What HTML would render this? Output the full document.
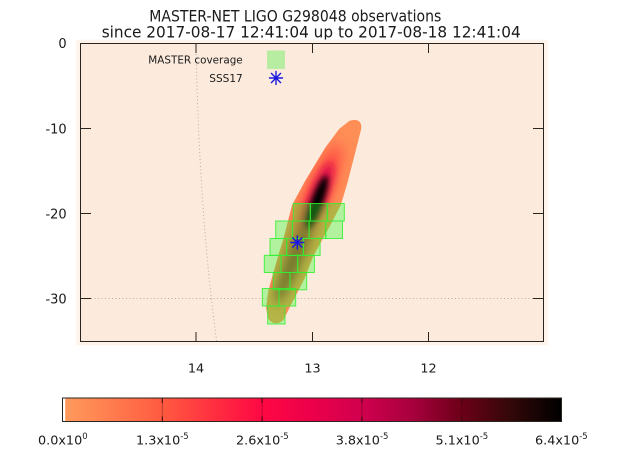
<!DOCTYPE html>
<html>
<head>
<meta charset="utf-8">
<style>
html,body{margin:0;padding:0;background:#fff;}
svg{display:block;}
text{font-family:"DejaVu Sans","Liberation Sans",sans-serif;fill:#1a1a1a;}
</style>
</head>
<body>
<svg width="623" height="468" viewBox="0 0 623 468" xmlns="http://www.w3.org/2000/svg">
<defs>
  <linearGradient id="cb" x1="0" y1="0" x2="1" y2="0">
    <stop offset="0" stop-color="#FF9C5C"/>
    <stop offset="0.1" stop-color="#FF7C4E"/>
    <stop offset="0.2" stop-color="#FF5A40"/>
    <stop offset="0.3" stop-color="#FF3040"/>
    <stop offset="0.4" stop-color="#FF0844"/>
    <stop offset="0.5" stop-color="#EC004A"/>
    <stop offset="0.6" stop-color="#D0004E"/>
    <stop offset="0.7" stop-color="#A8003E"/>
    <stop offset="0.8" stop-color="#6C0018"/>
    <stop offset="0.9" stop-color="#320808"/>
    <stop offset="1" stop-color="#000000"/>
  </linearGradient>
  <clipPath id="band">
    <path id="bandpath" d="M349,121 C357,118 363,121 361,130 L357,146 L348,181 L341,205 L330,226 L320,244 L313,257 L305,278 L291,305 L284,319 C281,324 272,326 268,318 L266,308 L268,292 L272,277 L278,256 L283,240 L292,205 L305,181 L325,148 L339,129 Z"/>
  </clipPath>
  <filter id="b3" x="-50%" y="-50%" width="200%" height="200%"><feGaussianBlur stdDeviation="3"/></filter>
  <filter id="b4" x="-50%" y="-50%" width="200%" height="200%"><feGaussianBlur stdDeviation="4"/></filter>
  <filter id="b5" x="-50%" y="-50%" width="200%" height="200%"><feGaussianBlur stdDeviation="5"/></filter>
  <filter id="b7" x="-50%" y="-50%" width="200%" height="200%"><feGaussianBlur stdDeviation="7"/></filter>
</defs>

<!-- title -->
<text x="149.3" y="21.7" font-size="16" textLength="292" lengthAdjust="spacingAndGlyphs">MASTER-NET LIGO G298048 observations</text>
<text x="101.7" y="37.7" font-size="16" textLength="419" lengthAdjust="spacingAndGlyphs">since 2017-08-17 12:41:04 up to 2017-08-18 12:41:04</text>

<!-- plot background -->
<rect x="76" y="39.5" width="472" height="306" fill="#FEF4EC"/>
<rect x="80.5" y="43.5" width="463" height="298" fill="#FCEBDD"/>

<!-- gridlines -->
<path d="M196,43.5 Q199,210 216.7,341.5" fill="none" stroke="#b9aca4" stroke-width="1" stroke-dasharray="1,2.5"/>
<line x1="80.5" y1="298.5" x2="543.5" y2="298.5" stroke="#b9aca4" stroke-width="1" stroke-dasharray="1,2.5"/>

<!-- heatmap band -->
<g clip-path="url(#band)">
  <use href="#bandpath" fill="#FF8E56"/>
  <ellipse cx="0" cy="0" rx="64" ry="12" fill="#FF4A42" filter="url(#b7)" transform="translate(314,203) rotate(-67)"/>
  <ellipse cx="0" cy="0" rx="36" ry="8.5" fill="#E0104C" filter="url(#b4)" transform="translate(318,196) rotate(-68)"/>
  <ellipse cx="0" cy="0" rx="45" ry="8" fill="#A03030" filter="url(#b5)" transform="translate(293,262) rotate(-68)"/>
  <ellipse cx="0" cy="0" rx="28" ry="6" fill="#000" filter="url(#b3)" transform="translate(317,202) rotate(-70)"/>
</g>

<!-- coverage cells -->
<g fill="rgba(40,255,40,0.35)" stroke="#33ee33" stroke-width="1" stroke-opacity="0.85">
  <rect x="293.3" y="203.5" width="17" height="17.5"/>
  <rect x="310.3" y="203.5" width="17" height="17.5"/>
  <rect x="327.3" y="203.5" width="17" height="17.5"/>
  <rect x="275.7" y="221" width="16.7" height="17.5"/>
  <rect x="292.4" y="221" width="16.7" height="17.5"/>
  <rect x="309.1" y="221" width="16.7" height="17.5"/>
  <rect x="325.8" y="221" width="16.7" height="17.5"/>
  <rect x="270" y="238.5" width="16.7" height="17"/>
  <rect x="286.7" y="238.5" width="16.7" height="17"/>
  <rect x="303.4" y="238.5" width="16.7" height="17"/>
  <rect x="264.3" y="255.3" width="16.7" height="17.2"/>
  <rect x="281" y="255.3" width="16.7" height="17.2"/>
  <rect x="297.7" y="255.3" width="16.7" height="17.2"/>
  <rect x="273.3" y="272.5" width="16.7" height="17.3"/>
  <rect x="290" y="272.5" width="16.7" height="17.3"/>
  <rect x="262.3" y="288.5" width="16.7" height="17.5"/>
  <rect x="279" y="288.5" width="16.7" height="17.5"/>
  <rect x="267.7" y="306" width="17.3" height="18"/>
</g>

<!-- SSS17 star -->
<g stroke="#1818e0" stroke-width="1.4" stroke-linecap="round">
  <line x1="290.8" y1="242.5" x2="303.8" y2="242.5"/>
  <line x1="297.3" y1="236" x2="297.3" y2="249"/>
  <line x1="292.7" y1="237.9" x2="301.9" y2="247.1"/>
  <line x1="292.7" y1="247.1" x2="301.9" y2="237.9"/>
</g>
<circle cx="297.3" cy="242.5" r="1.6" fill="#1818e0"/>

<!-- legend -->
<text x="242.7" y="63.6" font-size="11" text-anchor="end" textLength="94.4" lengthAdjust="spacingAndGlyphs">MASTER coverage</text>
<rect x="267" y="50.5" width="18" height="18.5" fill="#B6EDA0"/>
<text x="242.7" y="82" font-size="11" text-anchor="end" textLength="33.4" lengthAdjust="spacingAndGlyphs">SSS17</text>
<g stroke="#1818e0" stroke-width="1.4" stroke-linecap="round">
  <line x1="269.5" y1="78" x2="282.5" y2="78"/>
  <line x1="276" y1="71.5" x2="276" y2="84.5"/>
  <line x1="271.4" y1="73.4" x2="280.6" y2="82.6"/>
  <line x1="271.4" y1="82.6" x2="280.6" y2="73.4"/>
</g>
<circle cx="276" cy="78" r="1.5" fill="#1818e0"/>

<!-- frame -->
<rect x="80.5" y="43.5" width="463" height="298" fill="none" stroke="#2b2520" stroke-width="1"/>
<g stroke="#2b2520" stroke-width="1">
  <line x1="80.5" y1="128.5" x2="91" y2="128.5"/>
  <line x1="80.5" y1="213.5" x2="91" y2="213.5"/>
  <line x1="80.5" y1="298.5" x2="91" y2="298.5"/>
  <line x1="533" y1="128.5" x2="543.5" y2="128.5"/>
  <line x1="533" y1="213.5" x2="543.5" y2="213.5"/>
  <line x1="533" y1="298.5" x2="543.5" y2="298.5"/>
  <line x1="196" y1="43.5" x2="196" y2="53"/>
  <line x1="312.5" y1="43.5" x2="312.5" y2="53"/>
  <line x1="428.5" y1="43.5" x2="428.5" y2="53"/>
  <line x1="196" y1="332" x2="196" y2="341.5"/>
  <line x1="312.5" y1="332" x2="312.5" y2="341.5"/>
  <line x1="428.5" y1="332" x2="428.5" y2="341.5"/>
</g>

<!-- y labels -->
<g font-size="13" text-anchor="end">
  <text x="66.7" y="48">0</text>
  <text x="66.7" y="133.5">-10</text>
  <text x="66.7" y="218.5">-20</text>
  <text x="66.7" y="303.5">-30</text>
</g>
<!-- x labels -->
<g font-size="12.8" text-anchor="middle">
  <text x="196" y="372.7">14</text>
  <text x="312.5" y="372.7">13</text>
  <text x="428.5" y="372.7">12</text>
</g>

<!-- colorbar -->
<rect x="62.5" y="398" width="499" height="23.5" fill="url(#cb)"/>
<rect x="63" y="398.5" width="2.2" height="22.5" fill="#ffffff"/>
<g stroke="#3a0a0a" stroke-width="1">
  <line x1="162.3" y1="398" x2="162.3" y2="421.5" stroke-opacity="0.35"/>
  <line x1="262.1" y1="398" x2="262.1" y2="421.5" stroke-opacity="0.35"/>
  <line x1="361.9" y1="398" x2="361.9" y2="421.5" stroke-opacity="0.35"/>
  <line x1="461.7" y1="398" x2="461.7" y2="421.5" stroke-opacity="0.35"/>
  <line x1="162.3" y1="398" x2="162.3" y2="403"/>
  <line x1="262.1" y1="398" x2="262.1" y2="403"/>
  <line x1="361.9" y1="398" x2="361.9" y2="403"/>
  <line x1="461.7" y1="398" x2="461.7" y2="403"/>
  <line x1="162.3" y1="416.5" x2="162.3" y2="421.5"/>
  <line x1="262.1" y1="416.5" x2="262.1" y2="421.5"/>
  <line x1="361.9" y1="416.5" x2="361.9" y2="421.5"/>
  <line x1="461.7" y1="416.5" x2="461.7" y2="421.5"/>
</g>
<rect x="62.5" y="398" width="499" height="23.5" fill="none" stroke="#2b2520" stroke-width="1"/>

<!-- colorbar labels -->
<g font-size="12.8">
  <text x="38" y="444.3">0.0x10<tspan font-size="8.5" dy="-5.5">0</tspan></text>
  <text x="136" y="444.3">1.3x10<tspan font-size="8.5" dy="-5.5">-5</tspan></text>
  <text x="236" y="444.3">2.6x10<tspan font-size="8.5" dy="-5.5">-5</tspan></text>
  <text x="335.7" y="444.3">3.8x10<tspan font-size="8.5" dy="-5.5">-5</tspan></text>
  <text x="435.5" y="444.3">5.1x10<tspan font-size="8.5" dy="-5.5">-5</tspan></text>
  <text x="535" y="444.3">6.4x10<tspan font-size="8.5" dy="-5.5">-5</tspan></text>
</g>
</svg>
</body>
</html>
